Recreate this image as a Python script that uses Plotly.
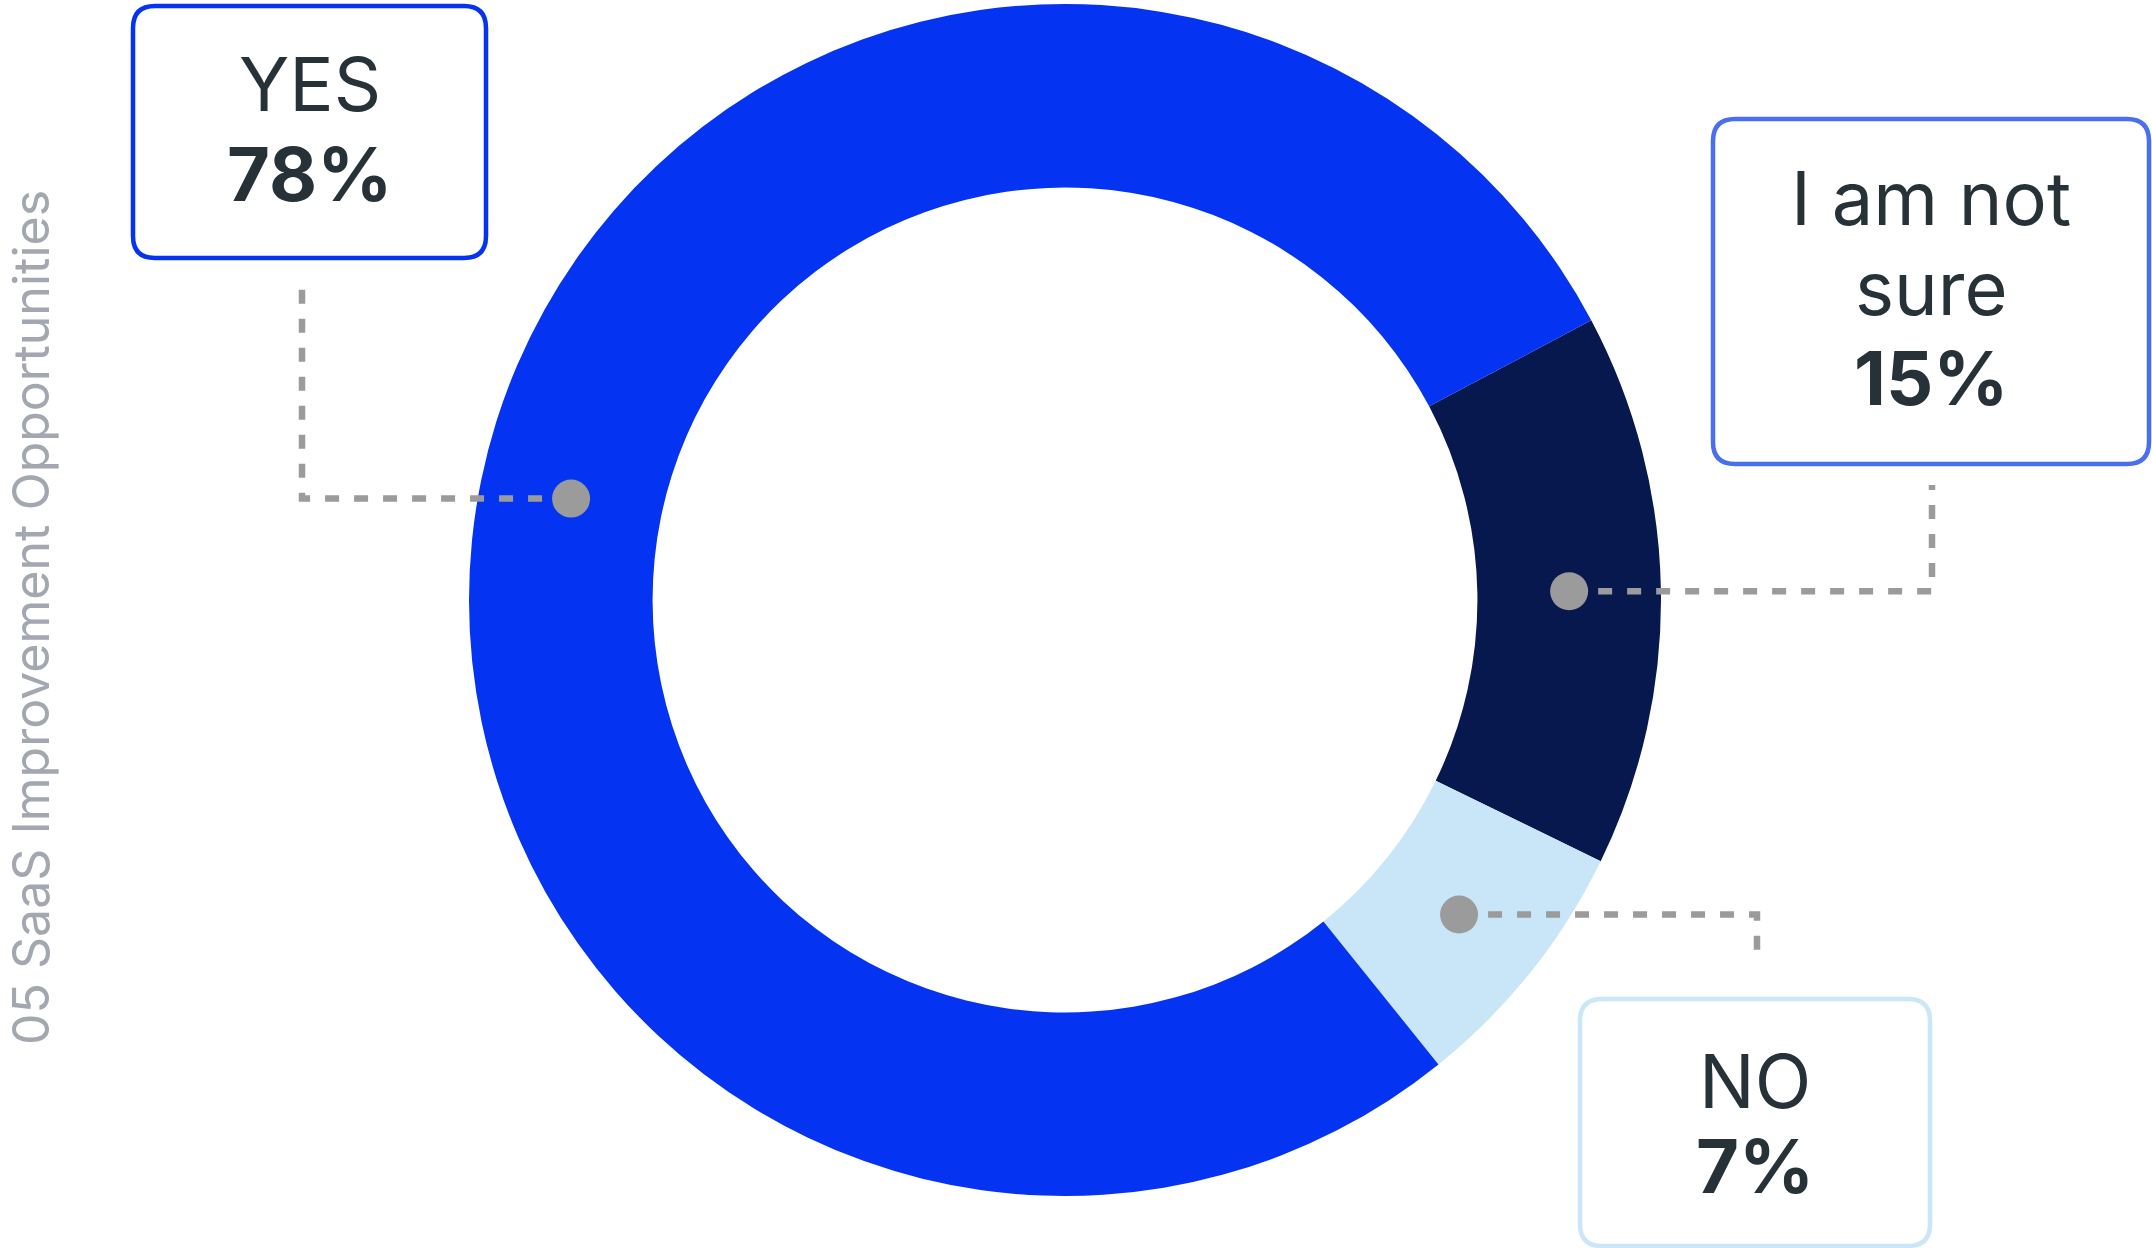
import math
import plotly.graph_objects as go

W, H = 2152, 1248

# Survey answers, drawn clockwise starting with "I am not sure"
labels = ["I am not sure", "NO", "YES"]
values = [15, 7, 78]
label_lines = [["I am not", "sure"], ["NO"], ["YES"]]
slice_colors = ["#07184F", "#C9E6F8", "#0433F2"]
border_colors = ["#4A6EF0", "#CBE6F8", "#0433F2"]
title = "05 SaaS Improvement Opportunities"

# Donut geometry (pixels)
CX, CY, R_OUT = 1065, 600, 596
HOLE = 0.692
ROTATION = 62  # start of first slice, degrees clockwise from 12 o'clock

TEXT_COLOR = "#263238"
DOT_COLOR = "#9B9B9B"
FONT = "Inter"


def px(x):
    return x / W


def py(y):
    return 1 - y / H


fig = go.Figure()
fig.add_trace(go.Pie(
    labels=labels, values=values, hole=HOLE, sort=False,
    direction="clockwise", rotation=ROTATION,
    marker=dict(colors=slice_colors, line=dict(width=0)),
    textinfo="none", hoverinfo="label+percent", showlegend=False,
    domain=dict(x=[px(CX - R_OUT), px(CX + R_OUT)],
                y=[py(CY + R_OUT), py(CY - R_OUT)]),
))

# Anchor dot for each slice, placed mid-ring at the slice's middle angle
total = sum(values)
r_mid = R_OUT * (1 + HOLE) / 2
dots = []
cum = 0
for v in values:
    mid = math.radians(ROTATION + 360 * (cum + v / 2) / total)
    dots.append((CX + r_mid * math.sin(mid), CY - r_mid * math.cos(mid)))
    cum += v

# Label boxes (pixel corners) and connector elbows
boxes = [(1713, 119, 2149, 464), (1580, 999, 1930, 1246), (133, 6, 486, 258)]
elbows = [(1932, 485), (1757, 961), (302, 280)]


def rounded_rect(x0, y0, x1, y1, r):
    pts = [
        f"M {px(x0 + r)},{py(y0)}", f"L {px(x1 - r)},{py(y0)}",
        f"Q {px(x1)},{py(y0)} {px(x1)},{py(y0 + r)}", f"L {px(x1)},{py(y1 - r)}",
        f"Q {px(x1)},{py(y1)} {px(x1 - r)},{py(y1)}", f"L {px(x0 + r)},{py(y1)}",
        f"Q {px(x0)},{py(y1)} {px(x0)},{py(y1 - r)}", f"L {px(x0)},{py(y0 + r)}",
        f"Q {px(x0)},{py(y0)} {px(x0 + r)},{py(y0)}", "Z",
    ]
    return " ".join(pts)


shapes = []
for (dx, dy), (ex, ey) in zip(dots, elbows):
    path = f"M {px(dx)},{py(dy)} L {px(ex)},{py(dy)} L {px(ex)},{py(ey)}"
    shapes.append(dict(type="path", path=path, xref="paper", yref="paper",
                       line=dict(color=DOT_COLOR, width=6.5, dash="14px,15px"),
                       layer="above"))
for dx, dy in dots:
    shapes.append(dict(type="circle", xref="paper", yref="paper",
                       x0=px(dx - 19), x1=px(dx + 19), y0=py(dy + 19), y1=py(dy - 19),
                       fillcolor=DOT_COLOR, line=dict(width=0), layer="above"))
for (x0, y0, x1, y1), bc in zip(boxes, border_colors):
    shapes.append(dict(type="path", path=rounded_rect(x0, y0, x1, y1, 22),
                       xref="paper", yref="paper", fillcolor="white",
                       line=dict(color=bc, width=4.5), layer="above"))

# Text rows inside each box: vertical centres of the label lines and the value
line_centres = [[198, 288], [1081], [84]]
value_centres = [378, 1166, 174]

annotations = []
for (x0, y0, x1, y1), lines, ys, val, vy in zip(boxes, label_lines, line_centres,
                                                 values, value_centres):
    xc = (x0 + x1) / 2
    for text, yc in zip(lines, ys):
        annotations.append(dict(text=text, x=px(xc), y=py(yc), xref="paper", yref="paper",
                                xanchor="center", yanchor="middle", showarrow=False,
                                font=dict(family=FONT, size=74, color=TEXT_COLOR)))
    annotations.append(dict(text=f"<b>{val}%</b>", x=px(xc), y=py(vy),
                            xref="paper", yref="paper", xanchor="center",
                            yanchor="middle", showarrow=False,
                            font=dict(family=FONT, size=74, color=TEXT_COLOR)))

# Vertical side title, kept fully inside the left edge
annotations.append(dict(text=title, x=0, y=py(618), xref="paper", yref="paper",
                        xanchor="left", yanchor="middle", textangle=-90,
                        showarrow=False, borderpad=0,
                        font=dict(family=FONT, size=50, color="#A3A8B0")))

fig.update_layout(
    width=W, height=H, margin=dict(l=0, r=0, t=0, b=0),
    paper_bgcolor="white", plot_bgcolor="white",
    shapes=shapes, annotations=annotations,
)

fig.write_html("out.html")
